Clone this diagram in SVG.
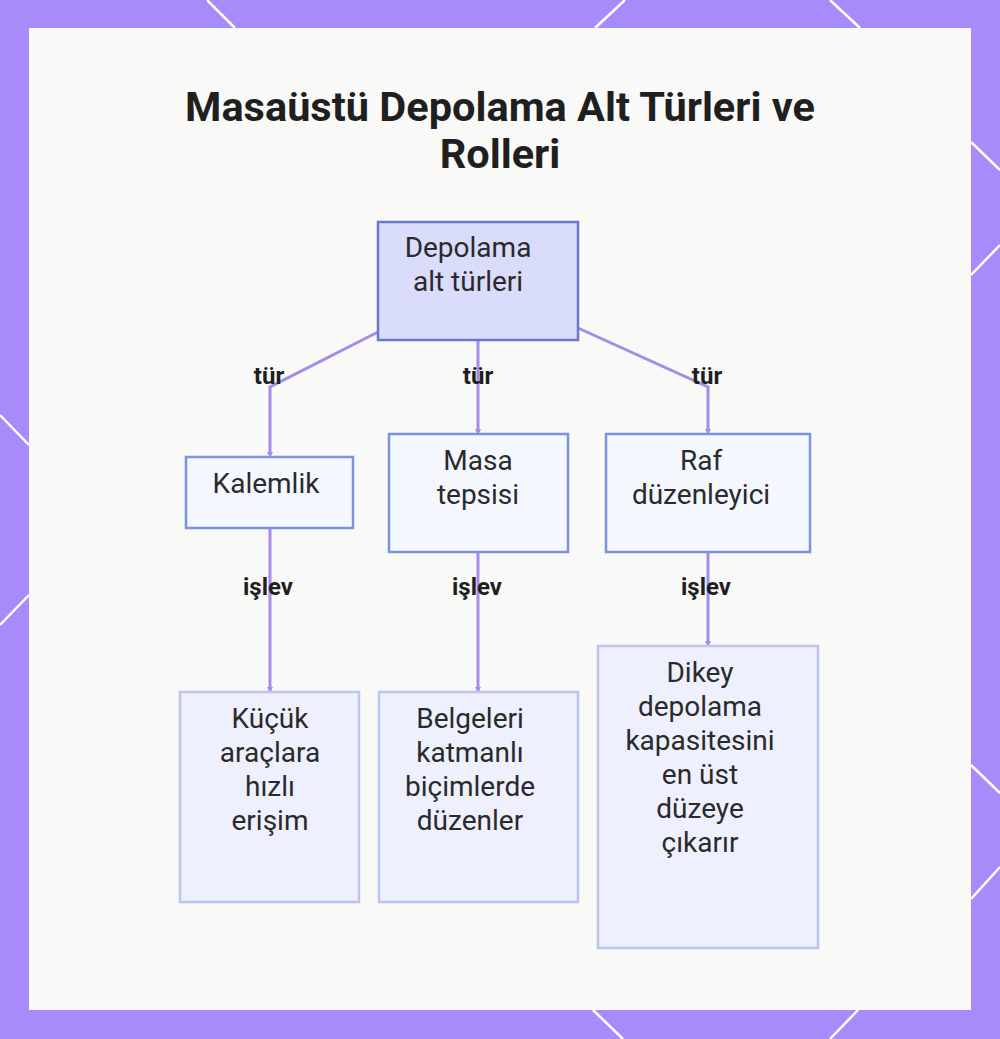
<svg xmlns="http://www.w3.org/2000/svg" width="1000" height="1039" viewBox="0 0 1000 1039">
<style>
.title{font-family:Roboto,"Liberation Sans",sans-serif;font-weight:700;font-size:41.5px;fill:#1f1f1f;text-anchor:middle}
.lbl{font-family:Roboto,"Liberation Sans",sans-serif;font-size:28px;fill:#2a2a2a;text-anchor:middle}
.elbl{font-family:Roboto,"Liberation Sans",sans-serif;font-weight:700;font-size:24px;fill:#1f1f1f;text-anchor:middle}
.root{fill:#dadcfb;stroke:#6878cf;stroke-width:2.5}
.mid{fill:#f5f7ff;stroke:#7b93e0;stroke-width:2.5}
.leaf{fill:#eef0fd;stroke:#bcc4f1;stroke-width:2.5}
.conn{fill:none;stroke:#a78bea;stroke-width:3}
.deco{stroke:#ffffff;stroke-width:2.5}
</style>
<defs>
<marker id="arr" markerWidth="6" markerHeight="6" refX="3" refY="3" orient="auto" markerUnits="userSpaceOnUse">
<path d="M0,0 L6,3 L0,6 z" fill="#a78bea"/>
</marker>
</defs>
<rect x="0" y="0" width="1000" height="1039" fill="#a78bfa"/>
<g class="deco">
<line x1="207" y1="0" x2="235" y2="28"/>
<line x1="625" y1="0" x2="595" y2="28"/>
<line x1="830" y1="0" x2="860" y2="28"/>
<line x1="971" y1="142" x2="1000" y2="170"/>
<line x1="1000" y1="245" x2="971" y2="275"/>
<line x1="971" y1="765" x2="1000" y2="793"/>
<line x1="1000" y1="867" x2="971" y2="899"/>
<line x1="593" y1="1010" x2="623" y2="1039"/>
<line x1="858" y1="1010" x2="830" y2="1039"/>
<line x1="0" y1="415" x2="29" y2="445"/>
<line x1="29" y1="595" x2="0" y2="625"/>
</g>
<rect x="29" y="28" width="942" height="982" fill="#f9f9f7"/>
<text class="title" x="500" y="121">Masaüstü Depolama Alt Türleri ve</text>
<text class="title" x="500" y="168">Rolleri</text>
<g id="connectors">
<polyline class="conn" points="378,332 270,387 270,455" marker-end="url(#arr)"/>
<polyline class="conn" points="478,340 478,432" marker-end="url(#arr)"/>
<polyline class="conn" points="578,328 708,387 708,432" marker-end="url(#arr)"/>
<line class="conn" x1="270" y1="529" x2="270" y2="690" marker-end="url(#arr)"/>
<line class="conn" x1="478" y1="553" x2="478" y2="690" marker-end="url(#arr)"/>
<line class="conn" x1="708" y1="553" x2="708" y2="644" marker-end="url(#arr)"/>
<text class="elbl" x="269" y="384">tür</text>
<text class="elbl" x="478" y="384">tür</text>
<text class="elbl" x="707" y="384">tür</text>
<text class="elbl" x="268" y="595">işlev</text>
<text class="elbl" x="477" y="595">işlev</text>
<text class="elbl" x="706" y="595">işlev</text>
</g>
<g id="root">
<rect class="root" x="378" y="222" width="200" height="118"/>
<text class="lbl" x="468" y="257">Depolama</text>
<text class="lbl" x="468" y="291">alt türleri</text>
</g>
<g id="kalemlik">
<rect class="mid" x="186" y="457" width="167" height="71"/>
<text class="lbl" x="266" y="493">Kalemlik</text>
</g>
<g id="masa">
<rect class="mid" x="389" y="434" width="179" height="118"/>
<text class="lbl" x="478" y="470">Masa</text>
<text class="lbl" x="478" y="504">tepsisi</text>
</g>
<g id="raf">
<rect class="mid" x="606" y="434" width="204" height="118"/>
<text class="lbl" x="701" y="470">Raf</text>
<text class="lbl" x="701" y="504">düzenleyici</text>
</g>
<g id="kucuk">
<rect class="leaf" x="180" y="692" width="179" height="210"/>
<text class="lbl" x="270" y="728">Küçük</text>
<text class="lbl" x="270" y="762">araçlara</text>
<text class="lbl" x="270" y="796">hızlı</text>
<text class="lbl" x="270" y="830">erişim</text>
</g>
<g id="belgeleri">
<rect class="leaf" x="379" y="692" width="199" height="210"/>
<text class="lbl" x="470" y="728">Belgeleri</text>
<text class="lbl" x="470" y="762">katmanlı</text>
<text class="lbl" x="470" y="796">biçimlerde</text>
<text class="lbl" x="470" y="830">düzenler</text>
</g>
<g id="dikey">
<rect class="leaf" x="598" y="646" width="220" height="302"/>
<text class="lbl" x="700" y="682">Dikey</text>
<text class="lbl" x="700" y="716">depolama</text>
<text class="lbl" x="700" y="750">kapasitesini</text>
<text class="lbl" x="700" y="784">en üst</text>
<text class="lbl" x="700" y="818">düzeye</text>
<text class="lbl" x="700" y="852">çıkarır</text>
</g>
</svg>
